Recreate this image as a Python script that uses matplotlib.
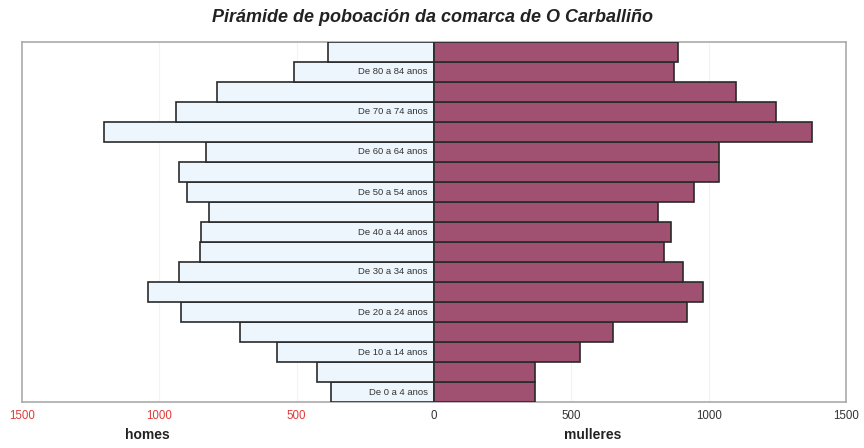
import matplotlib
matplotlib.use("Agg")
import matplotlib.pyplot as plt
import matplotlib.transforms as mtransforms

groups = ["De 0 a 4 anos", "De 5 a 9 anos", "De 10 a 14 anos", "De 15 a 19 anos",
          "De 20 a 24 anos", "De 25 a 29 anos", "De 30 a 34 anos", "De 35 a 39 anos",
          "De 40 a 44 anos", "De 45 a 49 anos", "De 50 a 54 anos", "De 55 a 59 anos",
          "De 60 a 64 anos", "De 65 a 69 anos", "De 70 a 74 anos", "De 75 a 79 anos",
          "De 80 a 84 anos", "85 e máis anos"]
homes = [375, 426, 572, 706, 922, 1040, 928, 853, 847, 818, 899, 928, 830, 1202, 940, 790, 510, 386]
mulleres = [367, 367, 530, 651, 920, 978, 907, 837, 862, 814, 948, 1037, 1036, 1375, 1246, 1100, 873, 889]
shown_labels = groups[0::2]
tick_values = [-1500, -1000, -500, 0, 500, 1000, 1500]
tick_labels = ["1500", "1000", "500", "0", "500", "1000", "1500"]

plt.rcParams['font.family'] = ['Liberation Sans', 'DejaVu Sans']

fig = plt.figure(figsize=(8.64, 4.48), dpi=100)
ax = fig.add_axes([22/864, 1-402/448, (846-22)/864, 360/448])

y = list(range(len(groups)))
ax.barh(y, [-v for v in homes], height=1.0, color="#eef6fd", edgecolor="#2a2a2a", linewidth=1.2, zorder=3)
ax.barh(y, mulleres, height=1.0, color="#a05070", edgecolor="#2a2a2a", linewidth=1.2, zorder=3)

ax.set_xlim(-1500, 1500)
ax.set_ylim(-0.5, len(groups) - 0.5)
ax.set_yticks([])
ax.set_xticks(tick_values)
ax.set_xticklabels(tick_labels, fontsize=8.3)
for lbl, v in zip(ax.get_xticklabels(), tick_values):
    lbl.set_color("#e03a3a" if v < 0 else "#333333")
ax.tick_params(axis='x', length=0, pad=6)
for v in [-1000, -500, 500, 1000]:
    ax.axvline(v, color="#f3f3f3", linewidth=0.8, zorder=1)
for s in ax.spines.values():
    s.set_color("#aaaaaa")
    s.set_linewidth(1.2)

offset = mtransforms.offset_copy(ax.transData, fig=fig, x=-6, y=0, units='dots')
for i, g in enumerate(groups):
    if g in shown_labels:
        ax.text(0, i, g, transform=offset, ha='right', va='center', fontsize=6.8,
                color="#333333", zorder=5)

fig.text(147 / 864, 1 - 435/448, "homes", ha='center', va='center', fontsize=10,
         fontweight='bold', color="#222222")
fig.text(593 / 864, 1 - 435/448, "mulleres", ha='center', va='center', fontsize=10,
         fontweight='bold', color="#222222")
fig.text(0.5, 1 - 17/448, "Pirámide de poboación da comarca de O Carballiño", ha='center',
         va='center', fontsize=13, fontweight='bold', fontstyle='italic', color="#222222")

fig.savefig("out.png", dpi=100)
